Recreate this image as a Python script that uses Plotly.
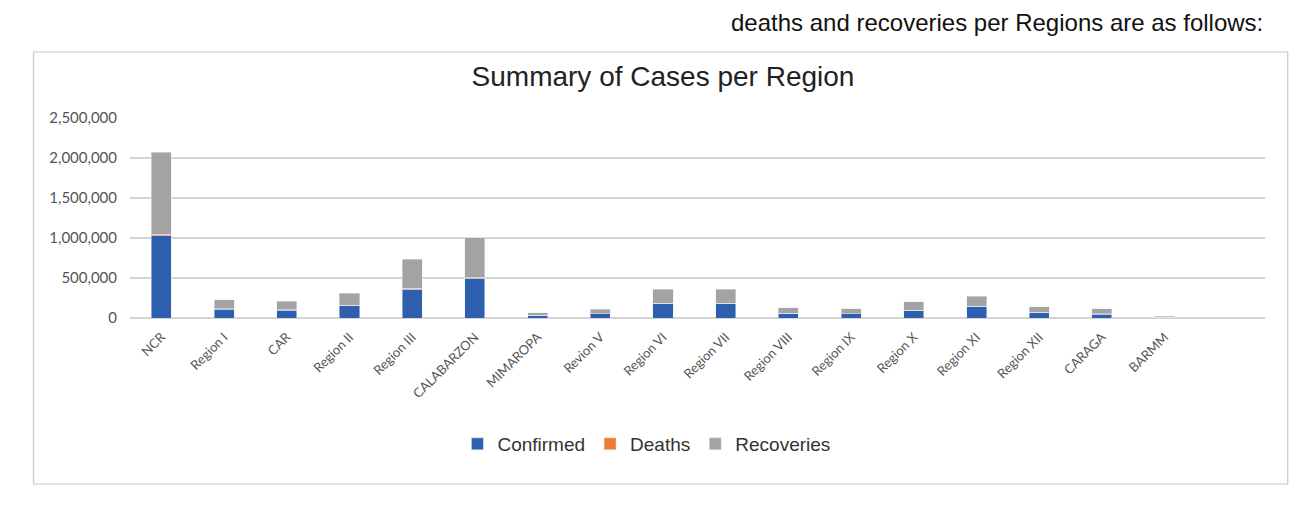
import plotly.graph_objects as go

regions = ["NCR", "Region I", "CAR", "Region II", "Region III", "CALABARZON",
           "MIMAROPA", "Revion V", "Region VI", "Region VII", "Region VIII",
           "Region IX", "Region X", "Region XI", "Region XII", "CARAGA", "BARMM"]
confirmed = [1030000, 110000, 100000, 155000, 360000, 500000, 35000, 52000,
             178000, 178000, 60000, 55000, 95000, 145000, 68000, 50000, 10000]
deaths = [16000, 3000, 1500, 3500, 9000, 10000, 800, 1500, 3500, 5000, 1300,
          1300, 2300, 3500, 1800, 1200, 400]
recoveries = [1025000, 115000, 110000, 150000, 365000, 495000, 33000, 55000,
              180000, 178000, 65000, 62000, 105000, 125000, 68000, 62000, 12000]
y_ticks = [0, 500000, 1000000, 1500000, 2000000, 2500000]

narrow = "Liberation Sans Narrow, Arial Narrow, Liberation Sans, Arial"
body = "Lato, Open Sans, sans-serif"

fig = go.Figure()
fig.add_trace(go.Bar(name="Confirmed", x=regions, y=confirmed, marker_color="#2E5FAE"))
fig.add_trace(go.Bar(name="Deaths", x=regions, y=deaths, marker_color="#ED7D31"))
fig.add_trace(go.Bar(name="Recoveries", x=regions, y=recoveries, marker_color="#A3A3A3"))

fig.update_layout(
    barmode="stack",
    bargap=0.68,
    width=1297, height=506,
    margin=dict(l=122, r=40, t=110, b=196),
    paper_bgcolor="white", plot_bgcolor="white",
    title=dict(text="Summary of Cases per Region", x=0.505, xanchor="center",
               y=0.865, yanchor="middle",
               font=dict(family=narrow, size=28, color="#222222")),
    legend=dict(orientation="h", x=0.455, xanchor="center", y=-0.63, yanchor="middle",
                font=dict(family=narrow, size=19, color="#333333"),
                itemwidth=30, traceorder="normal"),
    showlegend=True,
)
fig.update_xaxes(tickangle=-45, range=[-0.5, 17.6],
                 tickfont=dict(family=body, size=13, color="#555555"),
                 ticklabelstandoff=8,
                 showgrid=False, showline=False, ticks="")
fig.update_yaxes(range=[0, 2500000], tickvals=y_ticks,
                 ticktext=[f"{v:,}" for v in y_ticks],
                 tickfont=dict(family=body, size=15, color="#555555"),
                 ticklabelstandoff=12,
                 gridcolor="#D4D4D4", gridwidth=1.5, zeroline=True,
                 zerolinecolor="#D4D4D4", zerolinewidth=1.5, ticks="", ticklen=0)

# chart border
fig.add_shape(type="rect", xref="paper", yref="paper",
              x0=-0.085, x1=1.02, y0=-0.83, y1=1.33,
              line=dict(color="#C8C8C8", width=1.2), fillcolor="rgba(0,0,0,0)")
# document text above the chart
fig.add_annotation(text="deaths and recoveries per Regions are as follows:",
                   xref="paper", yref="paper", x=1.0, y=1.48,
                   xanchor="right", yanchor="middle", showarrow=False,
                   font=dict(family="Liberation Sans, Arial", size=24, color="#111111"))

fig.write_html("out.html")
